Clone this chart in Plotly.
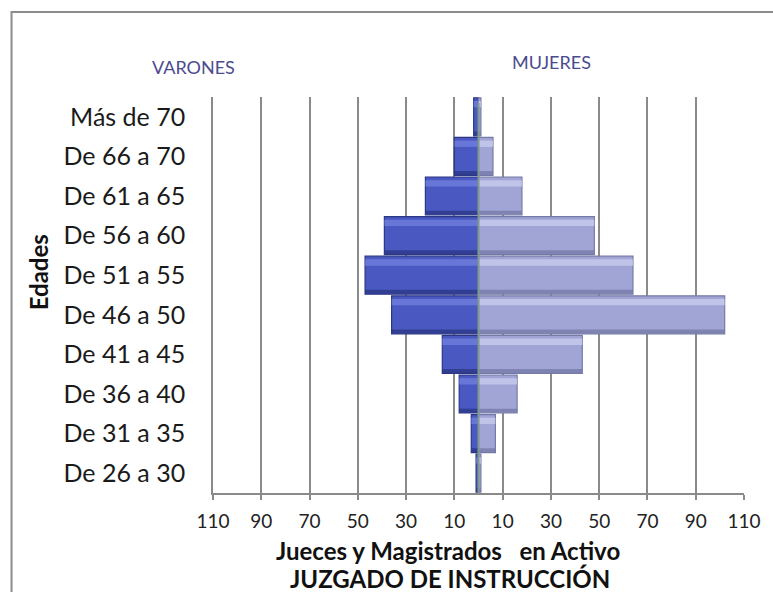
import plotly.graph_objects as go

# Age brackets, from youngest (bottom) to oldest (top)
edades = ["De 26 a 30", "De 31 a 35", "De 36 a 40", "De 41 a 45", "De 46 a 50",
          "De 51 a 55", "De 56 a 60", "De 61 a 65", "De 66 a 70", "Más de 70"]
varones = [1, 3, 8, 15, 36, 47, 39, 22, 10, 2]
mujeres = [1, 7, 16, 43, 102, 64, 48, 18, 6, 1]

tick_vals = [-110, -90, -70, -50, -30, -10, 10, 30, 50, 70, 90, 110]
tick_text = ["110", "90", "70", "50", "30", "10", "10", "30", "50", "70", "90", "110"]

W, H = 773, 592
L, R, T, B = 213, 25, 97, 99
PW, PH = W - L - R, H - T - B


def px(x):
    return (x - L) / PW


def py(y):
    return (H - B - y) / PH


FONT = "Lato"
male_x = [-v for v in varones]
fem_x = list(mujeres)

fig = go.Figure()
BAR_W = 0.96
for xs, base, top, bottom in [
    (male_x, "#4a59c2", "#7583df", "#2b3785"),
    (fem_x, "#a1a5d5", "#cfd1f1", "#757ba8"),
]:
    # main body with a dark rim
    fig.add_trace(go.Bar(y=edades, x=xs, orientation="h", width=BAR_W,
                         marker=dict(color=base, line=dict(color=bottom, width=1.2)),
                         hoverinfo="skip", showlegend=False))
    # soft highlight along the upper edge
    fig.add_trace(go.Bar(y=edades, x=xs, orientation="h", width=0.16, offset=0.24,
                         marker=dict(color=top, opacity=0.7, line=dict(width=0)),
                         hoverinfo="skip", showlegend=False))
    # shadow along the lower edge
    fig.add_trace(go.Bar(y=edades, x=xs, orientation="h", width=0.1, offset=-0.47,
                         marker=dict(color=bottom, opacity=0.8, line=dict(width=0)),
                         hoverinfo="skip", showlegend=False))


def label(text, x, y, size, color, angle=0):
    return dict(text=text, xref="paper", yref="paper", x=px(x), y=py(y),
                xanchor="center", yanchor="middle", textangle=angle,
                showarrow=False, font=dict(size=size, color=color, family=FONT))


fig.update_layout(
    width=W, height=H,
    margin=dict(l=L, r=R, t=T, b=B),
    paper_bgcolor="white", plot_bgcolor="white",
    barmode="overlay", bargap=0.04,
    font=dict(family=FONT, color="#1a1a1a"),
    xaxis=dict(range=[-110, 110], tickvals=tick_vals, ticktext=tick_text,
               showgrid=True, gridcolor="#8a8a8a", gridwidth=1.6,
               showline=True, linecolor="#8a8a8a", linewidth=1.6,
               ticks="outside", ticklen=5, tickcolor="#8a8a8a", tickwidth=1.6,
               tickfont=dict(size=19, color="#222222"), zeroline=False,
               ticklabelstandoff=5, fixedrange=True),
    yaxis=dict(categoryorder="array", categoryarray=edades,
               showgrid=False, showline=True, linecolor="#8a8a8a", linewidth=1.6,
               ticks="", tickfont=dict(size=25, color="#1a1a1a"),
               ticklabelstandoff=21, fixedrange=True),
    shapes=[
        # divider between both halves of the pyramid
        dict(type="line", xref="x", yref="paper", x0=0, x1=0, y0=0, y1=0.985,
             line=dict(color="#7f9a8c", width=2), layer="above"),
        # outer frame of the chart
        dict(type="rect", xref="paper", yref="paper",
             x0=px(10), x1=px(790), y0=py(600), y1=py(12),
             line=dict(color="#8c8c8c", width=2), fillcolor="rgba(0,0,0,0)"),
    ],
    annotations=[
        label("VARONES", 193, 67, 18, "#4b4b8f"),
        label("MUJERES", 554, 62, 18, "#4b4b8f"),
        label("<b>Edades</b>", 37, 272, 24, "#111111", angle=-90),
        label("<b>Jueces y Magistrados &nbsp; en Activo</b>", 450, 550, 24, "#111111"),
        label("<b>JUZGADO DE INSTRUCCIÓN</b>", 452, 578, 24, "#111111"),
    ],
)

fig.write_html("out.html")
